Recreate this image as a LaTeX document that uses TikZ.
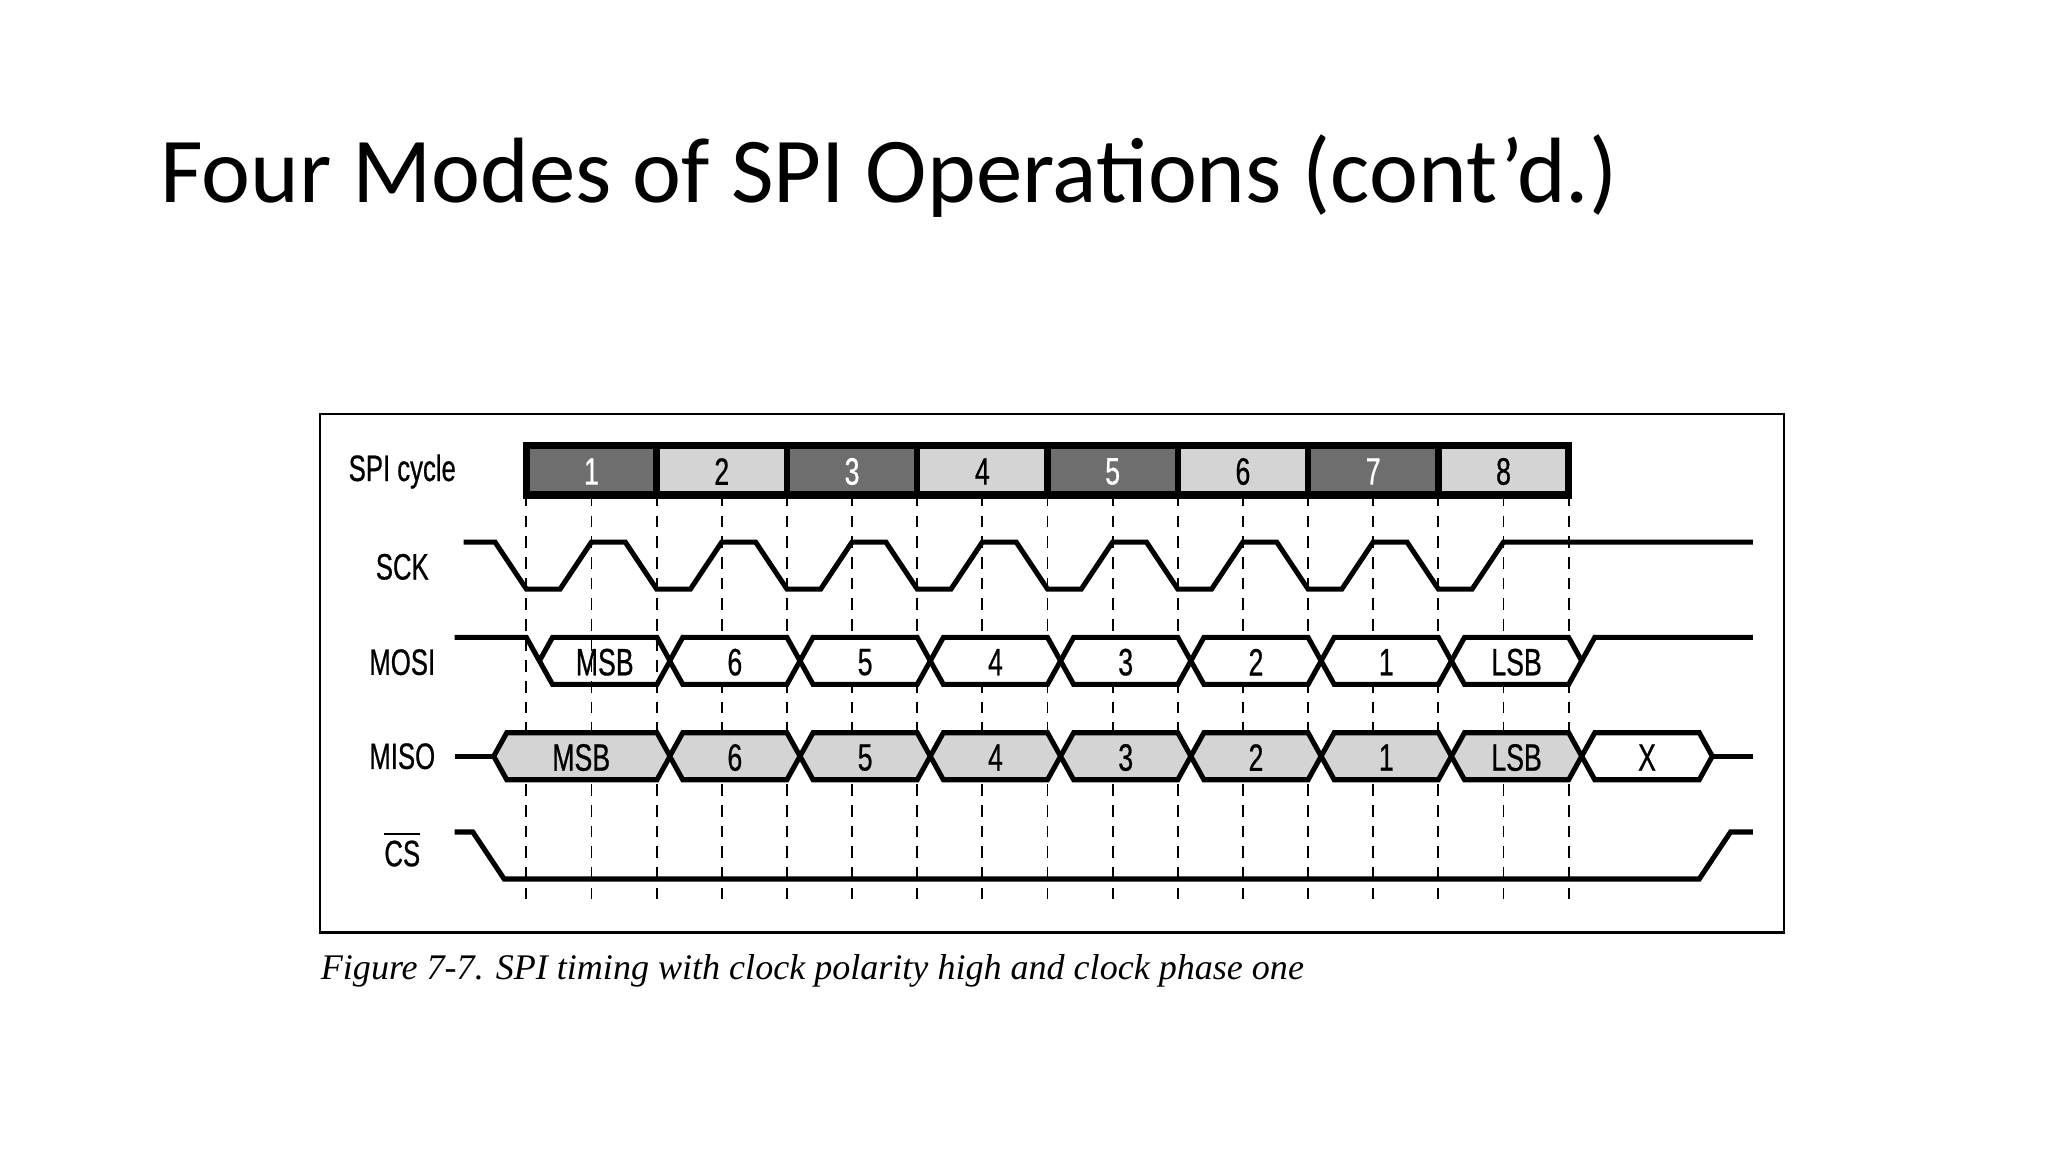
\documentclass[tikz,border=0pt]{standalone}
\usepackage{fontspec}
\setmainfont{Liberation Serif}
\newfontfamily\titlefont{Carlito}
\newfontfamily\cond[FakeStretch=0.7,FakeBold=0.6]{Liberation Sans}
\definecolor{darkcell}{HTML}{6E6E6E}
\definecolor{lightcell}{HTML}{D4D4D4}
\tikzset{
  sig/.style={line width=1.1pt, line join=miter},
  guide/.style={line width=0.4pt, dash pattern=on 2.5pt off 2pt},
  lab/.style={font=\cond\fontsize{8}{10}\selectfont, inner sep=0pt},
  boxtxt/.style={font=\cond\fontsize{8.3}{10}\selectfont, inner sep=0pt},
}
\begin{document}
\begin{tikzpicture}[x=0.01cm,y=-0.01cm]
\useasboundingbox (0,0) rectangle (1568,882);
\node[anchor=base west, inner sep=0pt, font=\titlefont\fontsize{20.2}{24}\selectfont] (title) at (122,155) {Four Modes of SPI Operations (cont’d.)};
\draw[line width=0.5pt] (245,317) rectangle (1366,714);
\node[anchor=base west, inner sep=0pt, font=\itshape\fontsize{7.85}{10}\selectfont] (cap) at (245,750) {Figure 7-7. SPI timing with clock polarity high and clock phase one};
% guides
\foreach \k in {0,...,16}
  \draw[guide] ({403+49.875*\k},379) -- ({403+49.875*\k},690);
% labels
\node[lab] (lcyc) at (308,361) {SPI cycle};
\node[lab] (lsck) at (308,434) {SCK};
\node[lab] (lmosi) at (308,507) {MOSI};
\node[lab] (lmiso) at (308,579) {MISO};
\node[lab] (lcs) at (308,650) {$\overline{\hbox{\cond CS}}$};
% cycle bar
\foreach \k in {1,3,5,7}{
  \fill[darkcell] ({403+99.75*(\k-1)},341) rectangle ({403+99.75*\k},379);
  \node[boxtxt, text=white] (c\k) at ({403+99.75*(\k-0.5)},361) {\k};}
\foreach \k in {2,4,6,8}{
  \fill[lightcell] ({403+99.75*(\k-1)},341) rectangle ({403+99.75*\k},379);
  \node[boxtxt] (c\k) at ({403+99.75*(\k-0.5)},361) {\k};}
\foreach \k in {1,...,7}
  \draw[line width=1.4pt] ({403+99.75*\k},341) -- ({403+99.75*\k},379);
\draw[line width=1.6pt] (403,341) rectangle (1201,379);
% SCK
\draw[sig] (355,415) foreach \k in {0,...,7}{
  -- ({403+99.75*\k-24},415) -- ({403+99.75*\k},451)
  -- ({452.875+99.75*\k-24},451) -- ({452.875+99.75*\k},415)} -- (1342,415);
% MOSI
\draw[sig] (348,488) -- (403,488) -- (423,524) -- (503,524) -- (513,506) -- (503,488) -- (423,488) -- (413,506);
\node[boxtxt] (mo1) at (463,507) {MSB};
\foreach \k/\t in {2/6,3/5,4/4,5/3,6/2,7/1,8/LSB}{
  \draw[sig, fill=white] ({403+99.75*(\k-1)+10},506) -- ({403+99.75*(\k-1)+20},488) -- ({403+99.75*\k},488) -- ({403+99.75*\k+10},506) -- ({403+99.75*\k},524) -- ({403+99.75*(\k-1)+20},524) -- cycle;
  \node[boxtxt] (mo\k) at ({403+99.75*(\k-0.5)+10},507) {\t};}
\draw[sig] (1211,506) -- (1221,488) -- (1342,488);
% MISO
\draw[sig] (348,579) -- (378,579);
\draw[sig, fill=lightcell] (378,579) -- (388,561) -- (503,561) -- (513,579) -- (503,597) -- (388,597) -- cycle;
\node[boxtxt] (mi1) at (445,580) {MSB};
\foreach \k/\t in {2/6,3/5,4/4,5/3,6/2,7/1,8/LSB}{
  \draw[sig, fill=lightcell] ({403+99.75*(\k-1)+10},579) -- ({403+99.75*(\k-1)+20},561) -- ({403+99.75*\k},561) -- ({403+99.75*\k+10},579) -- ({403+99.75*\k},597) -- ({403+99.75*(\k-1)+20},597) -- cycle;
  \node[boxtxt] (mi\k) at ({403+99.75*(\k-0.5)+10},580) {\t};}
\draw[sig, fill=white] (1211,579) -- (1221,561) -- (1301,561) -- (1311,579) -- (1301,597) -- (1221,597) -- cycle;
\node[boxtxt] (mix) at (1261,580) {X};
\draw[sig] (1311,579) -- (1342,579);
% CS
\draw[sig] (348,637) -- (362,637) -- (386,673) -- (1301,673) -- (1325,637) -- (1342,637);
\end{tikzpicture}
\end{document}
